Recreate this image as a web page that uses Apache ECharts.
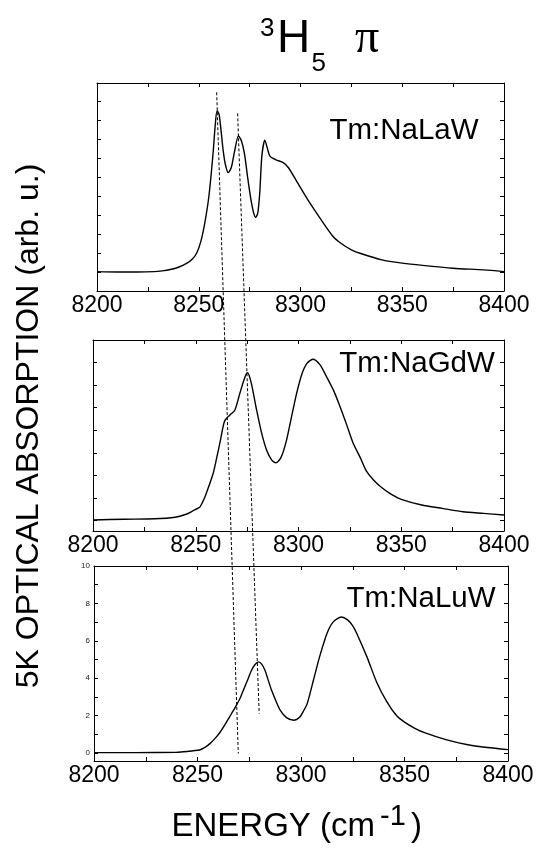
<!DOCTYPE html>
<html><head><meta charset="utf-8">
<script src="https://cdn.jsdelivr.net/npm/echarts@6/dist/echarts.min.js"></script>
<style>html,body{margin:0;padding:0;background:#fff}#c{width:541px;height:848px}</style>
</head><body><div id="c"></div><script>
// ---- data ----
const xTickLabels = ['8200', '8250', '8300', '8350', '8400'];
const luTickLabels = ['0', '2', '4', '6', '8', '10'];
const panelNames = ['Tm:NaLaW', 'Tm:NaGdW', 'Tm:NaLuW'];

const laEnergy = [8200,8210,8220,8228,8232,8236,8240,8244,8247,8249,8251,8253,8255,8257,8258,8259,8260,8261,8262,8263,8264.5,8266,8267.5,8269.5,8271,8272.5,8274,8275.5,8277,8278,8279,8280,8281,8282.5,8283.5,8285,8288,8291.5,8294,8298,8303,8309.5,8316,8320,8325,8330,8340,8350,8360,8375,8390,8400];
const laAbs = [1.02,1.0,1.0,1.02,1.06,1.13,1.25,1.45,1.7,2.0,2.6,3.6,5.0,7.2,8.6,9.49,9.3,8.4,7.4,6.7,6.23,6.5,7.3,8.16,7.9,7.2,6.0,4.9,4.1,3.88,4.1,5.2,7.1,7.94,7.6,7.1,6.9,6.76,6.5,5.8,4.9,3.85,2.87,2.5,2.17,1.96,1.64,1.47,1.35,1.2,1.11,1.02];

const gdEnergy = [8200,8215,8230,8240,8245,8248,8250,8252,8254,8255.5,8258.5,8260,8262,8264,8266.5,8269,8271.5,8274,8275.2,8277,8279.5,8282,8284.5,8287,8289,8291.5,8294,8296.5,8299,8301.5,8304,8307,8310.5,8313.5,8317,8320,8323.5,8326.5,8330,8333,8336.5,8340,8345,8350,8360,8370,8380,8390,8400];
const gdAbs = [0.03,0.06,0.08,0.15,0.27,0.4,0.5,0.6,0.95,1.3,2.1,2.7,3.55,4.4,4.67,4.89,5.65,6.37,6.55,6.1,4.95,3.9,3.12,2.68,2.56,2.8,3.5,4.55,5.6,6.45,6.95,7.15,6.9,6.4,5.78,5.1,4.23,3.45,2.8,2.2,1.8,1.5,1.17,0.94,0.69,0.54,0.39,0.32,0.25];

const luEnergy = [8200,8220,8240,8245,8248,8251,8254,8256,8258.5,8261,8263.5,8265.5,8268,8270.5,8272.5,8274.5,8276,8277.7,8279.5,8281,8282.6,8284,8285.8,8288,8290,8293,8296.5,8299.5,8301,8303,8306,8309,8312.5,8315.5,8319.5,8322.5,8325,8327,8332,8336.5,8341.5,8346,8350,8355,8360,8370,8380,8390,8400];
const luAbs = [0.02,0.02,0.04,0.08,0.12,0.16,0.33,0.5,0.78,1.12,1.55,1.93,2.4,2.91,3.45,3.98,4.4,4.72,4.87,4.75,4.42,3.95,3.35,2.75,2.28,1.89,1.75,1.93,2.2,2.64,3.89,5.15,6.38,7.0,7.27,7.12,6.8,6.38,5.1,3.8,2.73,2.02,1.65,1.32,1.07,0.71,0.45,0.29,0.18];

// dashed guide lines: start in top panel, end in bottom panel (energy, absorption)
const guideStartE = [8258.8, 8269.1];
const guideStartV = [10.46, 9.35];
const guideEndE = [8269.7, 8279.8];
const guideEndV = [-0.03, 2.1];

// ---- chart ----
const FONT = 'Liberation Sans, Arial, Helvetica, sans-serif';
const SERIF = 'Liberation Serif, DejaVu Serif, serif';
const chart = echarts.init(document.getElementById('c'), null, {renderer: 'canvas'});

const grids = [
  {left: 97, top: 83, width: 407, height: 208},
  {left: 93, top: 340, width: 411, height: 191},
  {left: 94, top: 566, width: 414, height: 195}
];
const yRanges = [[0, 10.95], [-0.46, 8], [-0.43, 10]];

function xAxis(i, pos, showLabels) {
  return {
    type: 'value', gridIndex: i, position: pos, min: 8200, max: 8400, interval: 25,
    axisLine: {show: true, onZero: false, lineStyle: {color: '#000', width: 1}},
    axisTick: {show: true, inside: true, length: 4, lineStyle: {color: '#000', width: 1}},
    axisLabel: {show: showLabels, margin: 3, fontSize: 23, color: '#000', fontFamily: FONT,
      formatter: v => xTickLabels.indexOf(String(Math.round(v))) >= 0 && Math.abs(v - Math.round(v)) < 1e-6 ? String(Math.round(v)) : ''},
    splitLine: {show: false}
  };
}
function yAxis(i, pos, showLabels) {
  return {
    type: 'value', gridIndex: i, position: pos, min: yRanges[i][0], max: yRanges[i][1],
    splitNumber: 10, minInterval: 1, maxInterval: 1,
    axisLine: {show: true, onZero: false, lineStyle: {color: '#000', width: 1}},
    axisTick: {show: true, inside: true, length: 4, lineStyle: {color: '#000', width: 1}},
    axisLabel: {show: showLabels, margin: 4, fontSize: 8, color: '#222', fontFamily: FONT,
      formatter: v => (Math.abs(v - Math.round(v)) < 1e-6 && luTickLabels.indexOf(String(Math.round(v))) >= 0) ? String(Math.round(v)) : ''},
    splitLine: {show: false}
  };
}

const series = [[laEnergy, laAbs], [gdEnergy, gdAbs], [luEnergy, luAbs]].map((d, i) => ({
  type: 'line', xAxisIndex: i, yAxisIndex: i,
  data: d[0].map((e, k) => [e, d[1][k]]),
  showSymbol: false, symbol: 'none', smooth: 0.25,
  lineStyle: {color: '#000', width: 1.4}, silent: true
}));

chart.setOption({
  animation: false,
  backgroundColor: '#fff',
  grid: grids,
  xAxis: [xAxis(0, 'bottom', true), xAxis(1, 'bottom', true), xAxis(2, 'bottom', true),
          xAxis(0, 'top', false), xAxis(1, 'top', false), xAxis(2, 'top', false)],
  yAxis: [yAxis(0, 'left', false), yAxis(1, 'left', false), yAxis(2, 'left', true),
          yAxis(0, 'right', false), yAxis(1, 'right', false), yAxis(2, 'right', false)],
  series: series
});

// texts and guide lines
const graphics = [];
for (let k = 0; k < guideStartE.length; k++) {
  const p1 = chart.convertToPixel({xAxisIndex: 0, yAxisIndex: 0}, [guideStartE[k], guideStartV[k]]);
  const p2 = chart.convertToPixel({xAxisIndex: 2, yAxisIndex: 2}, [guideEndE[k], guideEndV[k]]);
  graphics.push({type: 'line', shape: {x1: p1[0], y1: p1[1], x2: p2[0], y2: p2[1]},
    style: {stroke: '#000', lineWidth: 1, lineDash: [3, 2]}, z: 20, silent: true});
}
function txt(text, x, y, size, align, family) {
  return {type: 'text', x: x, y: y, silent: true, z: 30,
    style: {text: text, fontSize: size, fontFamily: family || FONT, fill: '#000', align: align || 'left', verticalAlign: 'middle'}};
}
// panel labels
graphics.push(txt(panelNames[0], 404, 131, 29.5, 'center'));
graphics.push(txt(panelNames[1], 417, 363.5, 29.5, 'center'));
graphics.push(txt(panelNames[2], 421, 599, 29.5, 'center'));
// title  3H5  pi
graphics.push(txt('3', 260, 38.3 - 0.35 * 26, 26));
graphics.push(txt('H', 277, 55 - 0.35 * 46, 46));
graphics.push(txt('5', 311.5, 72.7 - 0.35 * 26, 26));
graphics.push(txt('\u03C0', 355, 55 - 0.35 * 46, 48, 'left', SERIF));
// x axis title
graphics.push(txt('ENERGY (cm', 171.5, 838.3 - 0.35 * 33, 33));
graphics.push(txt('-1', 380, 826.7 - 0.35 * 29, 29));
graphics.push(txt(')', 411, 838.3 - 0.35 * 33, 33));
// y axis title
graphics.push({type: 'text', x: 29, y: 426, rotation: Math.PI / 2, silent: true, z: 30,
  style: {text: '5K OPTICAL ABSORPTION (arb. u.)', fontSize: 32, fontFamily: FONT, fill: '#000', align: 'center', verticalAlign: 'middle'}});

chart.setOption({graphic: graphics});
</script></body></html>
